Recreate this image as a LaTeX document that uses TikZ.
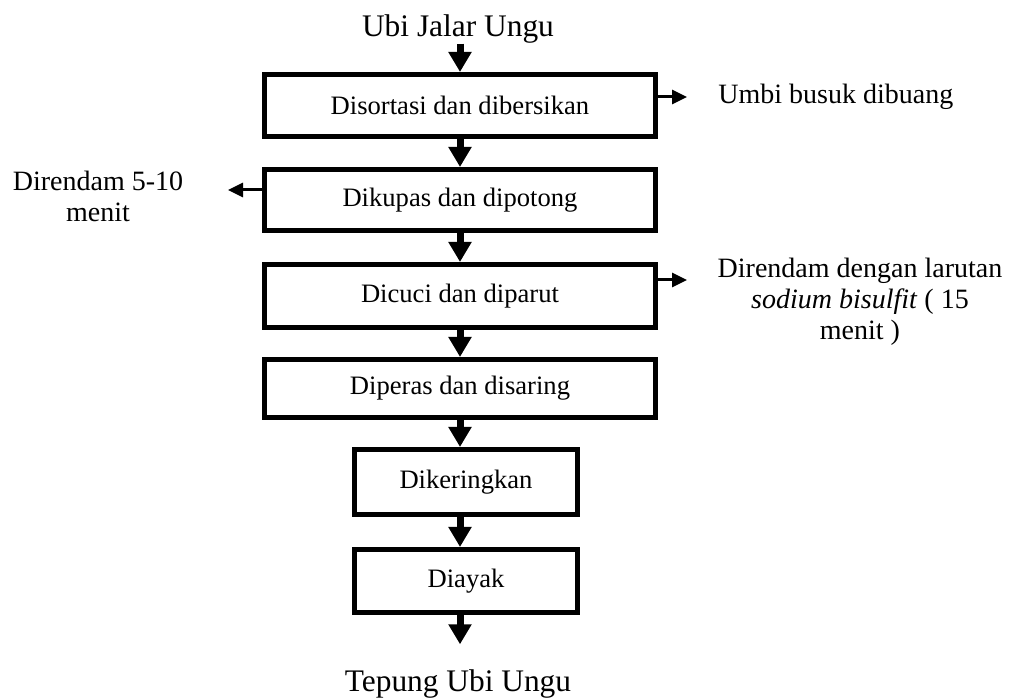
\documentclass[tikz,border=0pt]{standalone}
\usepackage{fontspec}
\setmainfont{Liberation Serif}
\usetikzlibrary{arrows.meta}
\tikzset{
  proc/.style={draw, line width=2.5pt, inner sep=0pt, minimum width=195.5pt, font=\fontsize{13.3}{15}\selectfont},
  procs/.style={proc, minimum width=111.5pt},
  flow/.style={line width=3.5pt, -{Triangle[length=10pt,width=11pt]}},
  side/.style={line width=1.5pt, -{Triangle[length=7.5pt,width=7pt]}},
  note/.style={align=center, inner sep=0pt, font=\fontsize{14}{15.5}\selectfont},
  ends/.style={inner sep=0pt, font=\fontsize{15.7}{18}\selectfont}
}
\begin{document}
\begin{tikzpicture}[x=0.5pt, y=-0.5pt]
\useasboundingbox (0,0) rectangle (1014,700);
\node[ends] (in) at (458,29) {Ubi Jalar Ungu};
\node[proc, minimum height=31pt] (b1) at (460,105.5) {Disortasi dan dibersikan};
\node[proc, minimum height=30.5pt] (b2) at (460,200) {Dikupas dan dipotong};
\node[proc, minimum height=31.5pt] (b3) at (460,296) {Dicuci dan diparut};
\node[proc, minimum height=29pt] (b4) at (460,388.5) {Diperas dan disaring};
\node[procs, minimum height=32.5pt] (b5) at (466,482) {Dikeringkan};
\node[procs, minimum height=31.5pt] (b6) at (466,581) {Diayak};
\node[ends] (out) at (458,684) {Tepung Ubi Ungu};
\node[note, anchor=west] (u1) at (718,97) {Umbi busuk dibuang};
\node[note] (l1) at (98,196) {Direndam 5-10\\menit};
\node[note] (r1) at (860,302) {Direndam dengan larutan\\\textit{sodium bisulfit} ( 15\\menit )};
\coordinate (a1) at (687,97);
\coordinate (a2) at (228,190);
\coordinate (a3) at (687,280);
\draw[flow] (b1.north |- in.south) -- (b1.north);
\draw[flow] (b1) -- (b2);
\draw[flow] (b2) -- (b3);
\draw[flow] (b3) -- (b4);
\draw[flow] (b4.south) -- (b4.south |- b5.north);
\draw[flow] (b4.south |- b5.south) -- (b4.south |- b6.north);
\draw[flow, shorten >=12.5pt] (b4.south |- b6.south) -- (b4.south |- out.north);
\draw[side] (b1.east |- a1) -- (a1);
\draw[side] (b2.west |- a2) -- (a2);
\draw[side] (b3.east |- a3) -- (a3);
\end{tikzpicture}
\end{document}
